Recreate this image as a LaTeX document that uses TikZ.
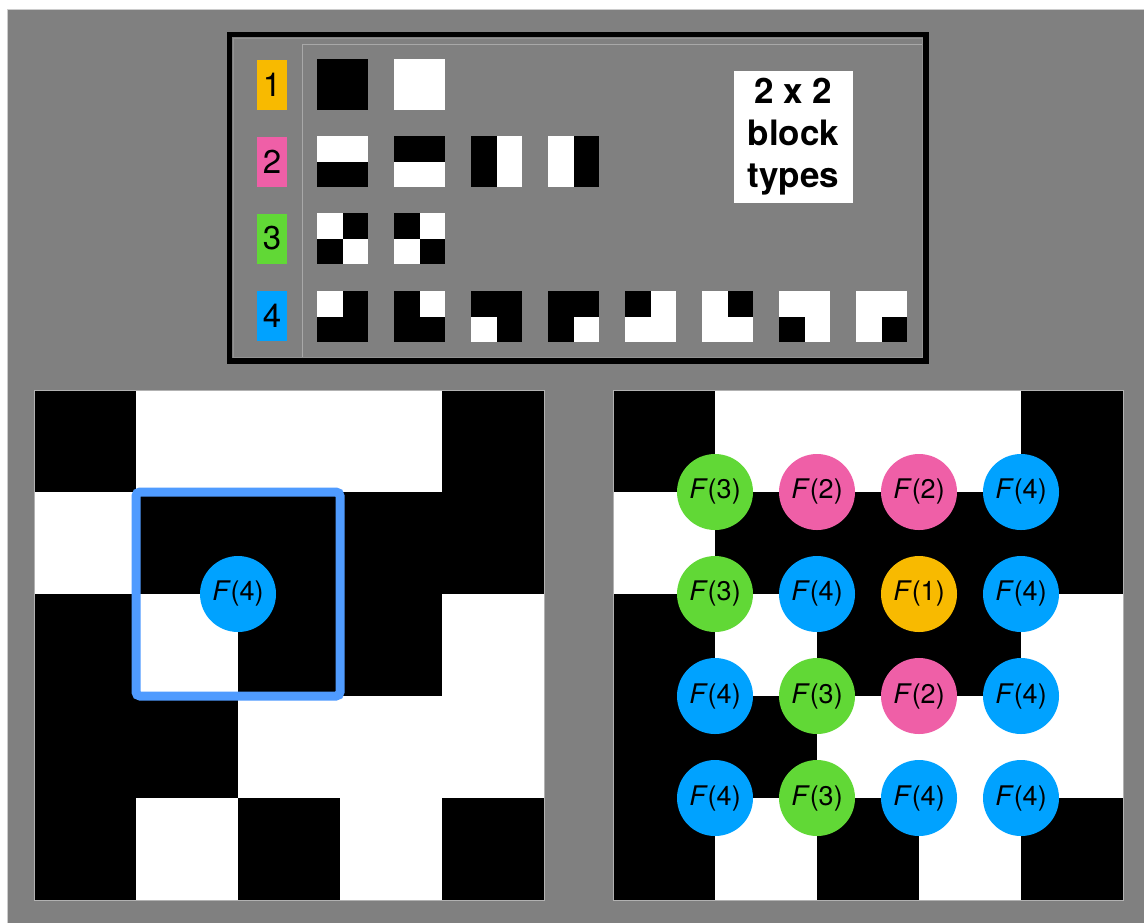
\documentclass[tikz,border=0pt]{standalone}
\usepackage{fontspec}
\setmainfont{TeX Gyre Heros}

\definecolor{panelgray}{HTML}{808080}
\definecolor{framegray}{HTML}{A8A8A8}
\definecolor{ftype1}{HTML}{F8BA00}
\definecolor{ftype2}{HTML}{EF5FA7}
\definecolor{ftype3}{HTML}{61D836}
\definecolor{ftype4}{HTML}{00A2FF}
\definecolor{boxblue}{HTML}{4F9BFF}

% one 2x2 block: x, y, then the colours of TL, TR, BL, BR
\newcommand{\blocktile}[6]{%
  \fill[#3] (#1,#2) rectangle ++(25.5,25.5);
  \fill[#4] ({#1+25.5},#2) rectangle ++(25.5,25.5);
  \fill[#5] (#1,{#2+25.5}) rectangle ++(25.5,25.5);
  \fill[#6] ({#1+25.5},{#2+25.5}) rectangle ++(25.5,25.5);
}

\tikzset{
  badge/.style={minimum width=15pt, minimum height=25pt, inner sep=0pt,
    font=\fontsize{16.5}{18}\selectfont},
  fcirc/.style={circle, minimum size=38pt, inner sep=0pt,
    font=\fontsize{13.5}{15}\selectfont}
}

\begin{document}
\begin{tikzpicture}[x=0.5pt, y=-0.5pt]
  \useasboundingbox (0,0) rectangle (1144,923);

  % Background
  \fill[white] (0,0) rectangle (1144,923);
  \fill[panelgray] (7,9) rectangle (1144,923);
  \draw[black!20, line width=0.5pt] (7,923) -- (7,9) -- (1144,9);

  % Legend box with the block types
  \draw[panelgray!85!white, line width=0.4pt] (233,38) rectangle (922,357);
  \draw[framegray, line width=0.5pt] (302,357) -- (302,44) -- (922,44);
  \draw[black, line width=2.75pt] (229.5,34.5) rectangle (926,361);

  \node[badge, fill=ftype1] (b1) at (272,84.5) {1};
  \node[badge, fill=ftype2] (b2) at (272,161.5) {2};
  \node[badge, fill=ftype3] (b3) at (272,238.5) {3};
  \node[badge, fill=ftype4] (b4) at (272,315.5) {4};

  % type 1
  \blocktile{317}{59}{black}{black}{black}{black}
  \blocktile{394}{59}{white}{white}{white}{white}
  % type 2
  \blocktile{317}{136}{white}{white}{black}{black}
  \blocktile{394}{136}{black}{black}{white}{white}
  \blocktile{471}{136}{black}{white}{black}{white}
  \blocktile{548}{136}{white}{black}{white}{black}
  % type 3
  \blocktile{317}{213}{white}{black}{black}{white}
  \blocktile{394}{213}{black}{white}{white}{black}
  % type 4
  \foreach \k/\a/\b/\c/\d in {0/white/black/black/black, 1/black/white/black/black,
      2/black/black/white/black, 3/black/black/black/white, 4/black/white/white/white,
      5/white/black/white/white, 6/white/white/black/white, 7/white/white/white/black}{
    \blocktile{317+77*\k}{291}{\a}{\b}{\c}{\d}
  }

  \node[fill=white, minimum width=59.5pt, minimum height=66pt, inner sep=0pt,
    align=center, font=\bfseries\fontsize{17.5}{21}\selectfont] (title)
    at (793.5,137) {2 x 2\\block\\types};

  % Two copies of the binary image
  \foreach \px in {34,613} {
    \fill[white] (\px,390) rectangle ++(510,510);
    \foreach \c/\r in {0/0,4/0,1/1,2/1,3/1,4/1,0/2,2/2,3/2,0/3,1/3,0/4,2/4,4/4}
      \fill[black] ({\px+102*\c},{390+102*\r}) rectangle ++(102,102);
    \draw[black!30, line width=0.4pt] (\px,390) rectangle ++(510,510);
  }

  % Sliding 2x2 window on the left image
  \draw[boxblue, line width=4.5pt, rounded corners=2pt] (136,492) rectangle (340,696);
  \node[fcirc, fill=ftype4] (win) at (238,594) {\textit{F}(4)};

  % Block type at every window position
  \foreach \row/\types in {1/{3,2,2,4}, 2/{3,4,1,4}, 3/{4,3,2,4}, 4/{4,3,4,4}}
    \foreach \t [count=\col] in \types
      \node[fcirc, fill=ftype\t] (f-\row-\col) at ({613+102*\col},{390+102*\row})
        {\textit{F}(\t)};
\end{tikzpicture}
\end{document}
